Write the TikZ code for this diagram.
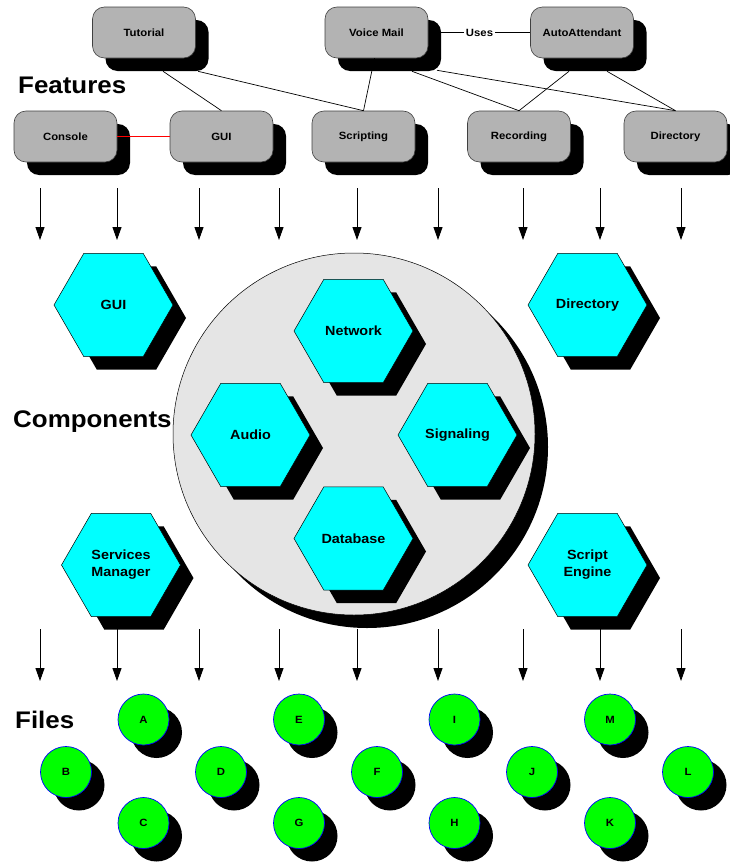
\documentclass[tikz,border=0pt]{standalone}
\usepackage{fontspec}
\setmainfont[FakeStretch=1.08]{Liberation Sans}
\usetikzlibrary{shapes.geometric,shadows,arrows.meta}

\definecolor{featgray}{HTML}{B3B3B3}
\definecolor{coregray}{HTML}{E5E5E5}
\definecolor{hexcyan}{HTML}{00FFFF}
\definecolor{filegreen}{HTML}{00FF00}

\tikzset{
  blackshadow/.style={drop shadow={shadow xshift=13pt, shadow yshift=-13pt, fill=black, opacity=1}},
  feature/.style={rectangle, rounded corners=12pt, minimum width=103pt, minimum height=51pt,
    inner sep=0pt, fill=featgray, draw=black!75, line width=0.6pt,
    font=\fontsize{10.5}{12}\selectfont\bfseries, blackshadow},
  hexa/.style={regular polygon, regular polygon sides=6, minimum size=119pt, inner sep=0pt,
    fill=hexcyan, draw=black, line width=0.5pt, align=center,
    font=\fontsize{13.3}{17}\selectfont\bfseries, blackshadow},
  filenode/.style={circle, minimum size=51pt, inner sep=0pt, fill=filegreen, draw=blue,
    line width=0.7pt, font=\fontsize{10.5}{12}\selectfont\bfseries, blackshadow},
  heading/.style={anchor=base west, inner sep=0pt, font=\fontsize{24}{28}\selectfont\bfseries},
  link/.style={draw=black, line width=0.7pt},
  flow/.style={draw=black, line width=0.9pt, -{Triangle[length=13pt,width=9pt]}}
}

\begin{document}
\begin{tikzpicture}[x=1pt, y=-1pt]
\useasboundingbox (0,0) rectangle (730,862);

% ---- feature layer ----
\node[heading] (hfeat) at (18,93) {Features};
\node[feature] (tut) at (144,32.5) {Tutorial};
\node[feature] (vm)  at (376.5,32.5) {Voice Mail};
\node[feature] (aa)  at (582,32.5) {AutoAttendant};
\node[feature] (con) at (65.5,136.5) {Console};
\node[feature] (gui) at (221.5,136.5) {GUI};
\node[feature] (scr) at (363.5,136.5) {Scripting};
\node[feature] (rec) at (519,136.5) {Recording};
\node[feature] (dir) at (675.5,136.5) {Directory};

% feature dependencies
\draw[link] ([shift={(19,13)}]tut.south) -- (gui.north);
\draw[link] ([shift={(54,13)}]tut.south) -- (scr.north);
\draw[link] ([shift={(-2,0)}]vm.south) -- (scr.north);
\draw[link] ([shift={(35.5,13)}]vm.south) -- (rec.north);
\draw[link] ([shift={(60.5,12)}]vm.south) -- (dir.north);
\draw[link] ([shift={(-13,13)}]aa.south) -- (rec.north);
\draw[link] ([shift={(25,13)}]aa.south) -- (dir.north);
\draw[draw=black, line width=1.2pt] ([xshift=13pt]vm.east) -- node[pos=0.43, fill=white, inner sep=2pt,
  font=\fontsize{10.5}{12}\selectfont\bfseries] (uses) {Uses} (aa.west);
\draw[draw=red, line width=1.4pt] (con.east) -- (gui.west);

% ---- flow arrows between the layers ----
\foreach \x [count=\i] in {40,117,199,279,357,438,523,600,681} {
  \coordinate (ua\i) at (\x,188);
  \coordinate (ub\i) at (\x,240);
  \draw[flow] (ua\i) -- (ub\i);
  \coordinate (la\i) at (\x,629);
  \coordinate (lb\i) at (\x,681);
  \draw[flow] (la\i) -- (lb\i);
}

% ---- component layer ----
\node[heading] (hcomp) at (13,427) {Components};
\node[circle, minimum size=362pt, inner sep=0pt, fill=coregray, draw=black, line width=0.5pt,
  blackshadow] (core) at (354,434) {};
\node[hexa] (hgui) at (113.5,305) {GUI};
\node[hexa] (hdir) at (587.5,305) {Directory};
\node[hexa] (hsm)  at (121,565) {Services\\Manager};
\node[hexa] (hse)  at (587.5,565) {Script\\Engine};
\node[hexa] (hnet) at (353.5,331) {Network};
\node[hexa] (haud) at (250.5,435) {Audio};
\node[hexa] (hsig) at (457.5,435) {Signaling};
\node[hexa] (hdb)  at (353.5,538.5) {Database};

% ---- file layer ----
\node[heading] (hfiles) at (15,728) {Files};
\node[filenode] (fA) at (143.5,719.5) {A};
\node[filenode] (fB) at (66,772) {B};
\node[filenode] (fC) at (143.5,823) {C};
\node[filenode] (fD) at (221,772) {D};
\node[filenode] (fE) at (299,719.5) {E};
\node[filenode] (fF) at (377,772) {F};
\node[filenode] (fG) at (299,823) {G};
\node[filenode] (fH) at (454.5,823) {H};
\node[filenode] (fI) at (454.5,719.5) {I};
\node[filenode] (fJ) at (532,772) {J};
\node[filenode] (fK) at (610,823) {K};
\node[filenode] (fL) at (688,772) {L};
\node[filenode] (fM) at (610,719.5) {M};
\end{tikzpicture}
\end{document}
